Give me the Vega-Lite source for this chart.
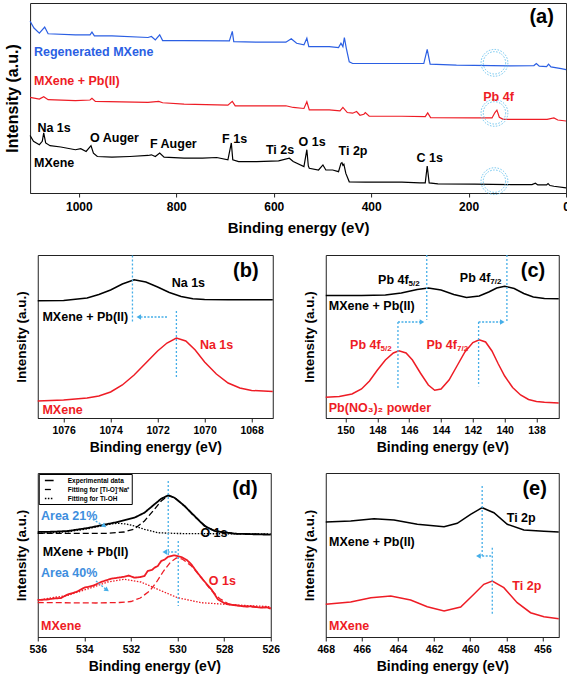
{
"$schema":"https://vega.github.io/schema/vega-lite/v6.json",
"padding":{"left":3,"top":2,"right":0,"bottom":2},
"config":{
 "font":"Liberation Sans",
 "view":{"stroke":"#222222","strokeWidth":1},
 "axis":{"grid":false,"labelFontWeight":"bold","titleFontWeight":"bold","labelColor":"#000000","titleColor":"#000000","domainColor":"#222222","tickColor":"#222222","tickSize":4,"labelFontSize":10.5,"titleFontSize":14,"labelPadding":3,"titlePadding":5,"labelFlush":false,"labelFont":"Liberation Sans","titleFont":"Liberation Sans"},
 "axisY":{"labels":false,"ticks":false,"domain":false,"titleFontSize":13.5,"titlePadding":9.5},
 "text":{"font":"Liberation Sans","fontWeight":"bold","baseline":"middle","align":"left","fontSize":12.5}
},
"datasets":{
 "aL":[
  {"s":"MXene","E":1100,"I":170},{"s":"MXene","E":1093,"I":153},{"s":"MXene","E":1081,"I":143},{"s":"MXene","E":1075,"I":153},{"s":"MXene","E":1072,"I":178},{"s":"MXene","E":1068,"I":148},{"s":"MXene","E":1059,"I":140},{"s":"MXene","E":1037,"I":136},{"s":"MXene","E":1007,"I":128},{"s":"MXene","E":996,"I":131},{"s":"MXene","E":985,"I":123},{"s":"MXene","E":975,"I":140},{"s":"MXene","E":970,"I":118},{"s":"MXene","E":962,"I":108},{"s":"MXene","E":932,"I":106},{"s":"MXene","E":895,"I":108},{"s":"MXene","E":858,"I":111},{"s":"MXene","E":851,"I":113},{"s":"MXene","E":843,"I":108},{"s":"MXene","E":834,"I":118},{"s":"MXene","E":825,"I":106},{"s":"MXene","E":784,"I":103},{"s":"MXene","E":746,"I":103},{"s":"MXene","E":717,"I":105},{"s":"MXene","E":694,"I":98},{"s":"MXene","E":687,"I":148},{"s":"MXene","E":684,"I":98},{"s":"MXene","E":672,"I":93},{"s":"MXene","E":635,"I":93},{"s":"MXene","E":590,"I":95},{"s":"MXene","E":568,"I":103},{"s":"MXene","E":560,"I":93},{"s":"MXene","E":538,"I":78},{"s":"MXene","E":532,"I":128},{"s":"MXene","E":529,"I":80},{"s":"MXene","E":527,"I":73},{"s":"MXene","E":508,"I":68},{"s":"MXene","E":499,"I":83},{"s":"MXene","E":493,"I":68},{"s":"MXene","E":479,"I":68},{"s":"MXene","E":467,"I":63},{"s":"MXene","E":462,"I":88},{"s":"MXene","E":460,"I":90},{"s":"MXene","E":458,"I":82},{"s":"MXene","E":456,"I":85},{"s":"MXene","E":452,"I":58},{"s":"MXene","E":445,"I":33},{"s":"MXene","E":412,"I":32},{"s":"MXene","E":337,"I":32},{"s":"MXene","E":300,"I":30},{"s":"MXene","E":289,"I":30},{"s":"MXene","E":285,"I":80},{"s":"MXene","E":281,"I":30},{"s":"MXene","E":263,"I":27},{"s":"MXene","E":188,"I":26},{"s":"MXene","E":114,"I":25},{"s":"MXene","E":70,"I":25},{"s":"MXene","E":63,"I":29},{"s":"MXene","E":58,"I":24},{"s":"MXene","E":40,"I":24},{"s":"MXene","E":37,"I":28},{"s":"MXene","E":33,"I":22},{"s":"MXene","E":25,"I":20},{"s":"MXene","E":0,"I":15},
  {"s":"Regenerated MXene","E":1100,"I":508},{"s":"Regenerated MXene","E":1092,"I":488},{"s":"Regenerated MXene","E":1081,"I":473},{"s":"Regenerated MXene","E":1070,"I":491},{"s":"Regenerated MXene","E":1063,"I":471},{"s":"Regenerated MXene","E":1007,"I":468},{"s":"Regenerated MXene","E":977,"I":468},{"s":"Regenerated MXene","E":973,"I":476},{"s":"Regenerated MXene","E":968,"I":465},{"s":"Regenerated MXene","E":932,"I":465},{"s":"Regenerated MXene","E":858,"I":460},{"s":"Regenerated MXene","E":851,"I":463},{"s":"Regenerated MXene","E":843,"I":453},{"s":"Regenerated MXene","E":834,"I":468},{"s":"Regenerated MXene","E":828,"I":451},{"s":"Regenerated MXene","E":784,"I":451},{"s":"Regenerated MXene","E":691,"I":450},{"s":"Regenerated MXene","E":685,"I":478},{"s":"Regenerated MXene","E":682,"I":448},{"s":"Regenerated MXene","E":635,"I":446},{"s":"Regenerated MXene","E":575,"I":446},{"s":"Regenerated MXene","E":564,"I":456},{"s":"Regenerated MXene","E":553,"I":443},{"s":"Regenerated MXene","E":538,"I":438},{"s":"Regenerated MXene","E":532,"I":458},{"s":"Regenerated MXene","E":528,"I":433},{"s":"Regenerated MXene","E":486,"I":433},{"s":"Regenerated MXene","E":467,"I":430},{"s":"Regenerated MXene","E":462,"I":443},{"s":"Regenerated MXene","E":458,"I":433},{"s":"Regenerated MXene","E":455,"I":460},{"s":"Regenerated MXene","E":451,"I":428},{"s":"Regenerated MXene","E":445,"I":388},{"s":"Regenerated MXene","E":438,"I":383},{"s":"Regenerated MXene","E":337,"I":383},{"s":"Regenerated MXene","E":292,"I":383},{"s":"Regenerated MXene","E":285,"I":425},{"s":"Regenerated MXene","E":279,"I":381},{"s":"Regenerated MXene","E":225,"I":378},{"s":"Regenerated MXene","E":114,"I":376},{"s":"Regenerated MXene","E":66,"I":377},{"s":"Regenerated MXene","E":61,"I":383},{"s":"Regenerated MXene","E":55,"I":375},{"s":"Regenerated MXene","E":40,"I":374},{"s":"Regenerated MXene","E":36,"I":381},{"s":"Regenerated MXene","E":31,"I":373},{"s":"Regenerated MXene","E":10,"I":368},{"s":"Regenerated MXene","E":0,"I":365},
  {"s":"MXene + Pb(II)","E":1100,"I":283},{"s":"MXene + Pb(II)","E":1081,"I":278},{"s":"MXene + Pb(II)","E":1072,"I":285},{"s":"MXene + Pb(II)","E":1063,"I":276},{"s":"MXene + Pb(II)","E":1007,"I":273},{"s":"MXene + Pb(II)","E":977,"I":275},{"s":"MXene + Pb(II)","E":973,"I":280},{"s":"MXene + Pb(II)","E":966,"I":271},{"s":"MXene + Pb(II)","E":858,"I":268},{"s":"MXene + Pb(II)","E":836,"I":271},{"s":"MXene + Pb(II)","E":828,"I":267},{"s":"MXene + Pb(II)","E":784,"I":263},{"s":"MXene + Pb(II)","E":694,"I":260},{"s":"MXene + Pb(II)","E":685,"I":271},{"s":"MXene + Pb(II)","E":679,"I":258},{"s":"MXene + Pb(II)","E":575,"I":258},{"s":"MXene + Pb(II)","E":560,"I":253},{"s":"MXene + Pb(II)","E":538,"I":250},{"s":"MXene + Pb(II)","E":532,"I":270},{"s":"MXene + Pb(II)","E":527,"I":246},{"s":"MXene + Pb(II)","E":486,"I":246},{"s":"MXene + Pb(II)","E":464,"I":243},{"s":"MXene + Pb(II)","E":458,"I":253},{"s":"MXene + Pb(II)","E":449,"I":238},{"s":"MXene + Pb(II)","E":438,"I":236},{"s":"MXene + Pb(II)","E":430,"I":241},{"s":"MXene + Pb(II)","E":423,"I":230},{"s":"MXene + Pb(II)","E":415,"I":233},{"s":"MXene + Pb(II)","E":412,"I":238},{"s":"MXene + Pb(II)","E":404,"I":227},{"s":"MXene + Pb(II)","E":337,"I":227},{"s":"MXene + Pb(II)","E":289,"I":226},{"s":"MXene + Pb(II)","E":284,"I":237},{"s":"MXene + Pb(II)","E":278,"I":223},{"s":"MXene + Pb(II)","E":188,"I":222},{"s":"MXene + Pb(II)","E":152,"I":222},{"s":"MXene + Pb(II)","E":146,"I":238},{"s":"MXene + Pb(II)","E":142,"I":245},{"s":"MXene + Pb(II)","E":137,"I":224},{"s":"MXene + Pb(II)","E":129,"I":218},{"s":"MXene + Pb(II)","E":39,"I":218},{"s":"MXene + Pb(II)","E":25,"I":222},{"s":"MXene + Pb(II)","E":17,"I":216},{"s":"MXene + Pb(II)","E":0,"I":213}
 ],
 "aC":[{"E":147,"I":385},{"E":147,"I":237},{"E":147,"I":35}],
 "aT":[
  {"E":1092,"I":416,"t":"Regenerated MXene","s":"Regenerated MXene"},
  {"E":1092,"I":331,"t":"MXene + Pb(II)","s":"MXene + Pb(II)"},
  {"E":170,"I":283,"t":"Pb 4f","s":"MXene + Pb(II)"},
  {"E":1085,"I":193,"t":"Na 1s","s":"MXene"},
  {"E":977,"I":163,"t":"O Auger","s":"MXene"},
  {"E":854,"I":145,"t":"F Auger","s":"MXene"},
  {"E":706,"I":160,"t":"F 1s","s":"MXene"},
  {"E":616,"I":128,"t":"Ti 2s","s":"MXene"},
  {"E":549,"I":150,"t":"O 1s","s":"MXene"},
  {"E":467,"I":125,"t":"Ti 2p","s":"MXene"},
  {"E":307,"I":103,"t":"C 1s","s":"MXene"},
  {"E":1092,"I":88,"t":"MXene","s":"MXene"}
 ],
 "bL":[
  {"s":"MXene + Pb(II)","E":1077.1,"I":117.3},{"s":"MXene + Pb(II)","E":1076,"I":117.5},{"s":"MXene + Pb(II)","E":1075,"I":120},{"s":"MXene + Pb(II)","E":1074.5,"I":123.5},{"s":"MXene + Pb(II)","E":1074,"I":128},{"s":"MXene + Pb(II)","E":1073.5,"I":134},{"s":"MXene + Pb(II)","E":1073,"I":138.3},{"s":"MXene + Pb(II)","E":1072.5,"I":136},{"s":"MXene + Pb(II)","E":1072,"I":131},{"s":"MXene + Pb(II)","E":1071.5,"I":125.5},{"s":"MXene + Pb(II)","E":1071,"I":121.5},{"s":"MXene + Pb(II)","E":1070.5,"I":119.3},{"s":"MXene + Pb(II)","E":1070,"I":118.5},{"s":"MXene + Pb(II)","E":1069,"I":118.3},{"s":"MXene + Pb(II)","E":1067.1,"I":118.3},
  {"s":"MXene","E":1077.1,"I":17},{"s":"MXene","E":1076,"I":18},{"s":"MXene","E":1075,"I":20},{"s":"MXene","E":1074.5,"I":22},{"s":"MXene","E":1074,"I":26},{"s":"MXene","E":1073.5,"I":33},{"s":"MXene","E":1073,"I":43},{"s":"MXene","E":1072.5,"I":55},{"s":"MXene","E":1072,"I":67},{"s":"MXene","E":1071.6,"I":75},{"s":"MXene","E":1071.2,"I":80},{"s":"MXene","E":1070.8,"I":77},{"s":"MXene","E":1070.4,"I":68},{"s":"MXene","E":1070,"I":56},{"s":"MXene","E":1069.5,"I":44},{"s":"MXene","E":1069,"I":35},{"s":"MXene","E":1068.5,"I":30},{"s":"MXene","E":1068,"I":27.5},{"s":"MXene","E":1067.1,"I":26.5}
 ],
 "bT":[
  {"E":1071.4,"I":135,"t":"Na 1s","s":"MXene + Pb(II)"},
  {"E":1076.9,"I":101,"t":"MXene + Pb(II)","s":"MXene + Pb(II)"},
  {"E":1070.2,"I":73,"t":"Na 1s","s":"MXene"},
  {"E":1076.9,"I":8,"t":"MXene","s":"MXene"}
 ],
 "bV":[{"E":1073.07,"I":162.5,"I2":96},{"E":1071.2,"I":107,"I2":39}],
 "bA":[{"E":1071.6,"E2":1072.7,"I":101}],
 "bH":[{"E":1072.8,"I":101}],
 "cL":[
  {"s":"MXene + Pb(II)","E":151.25,"I":122.5},{"s":"MXene + Pb(II)","E":149,"I":122.5},{"s":"MXene + Pb(II)","E":147.5,"I":123},{"s":"MXene + Pb(II)","E":146.5,"I":125},{"s":"MXene + Pb(II)","E":145.5,"I":128.5},{"s":"MXene + Pb(II)","E":144.8,"I":130},{"s":"MXene + Pb(II)","E":144,"I":128},{"s":"MXene + Pb(II)","E":143.2,"I":123.5},{"s":"MXene + Pb(II)","E":142.4,"I":120.5},{"s":"MXene + Pb(II)","E":141.6,"I":122},{"s":"MXene + Pb(II)","E":141,"I":126},{"s":"MXene + Pb(II)","E":140.5,"I":130},{"s":"MXene + Pb(II)","E":140,"I":131.7},{"s":"MXene + Pb(II)","E":139.4,"I":129.5},{"s":"MXene + Pb(II)","E":138.8,"I":124.5},{"s":"MXene + Pb(II)","E":138.2,"I":121},{"s":"MXene + Pb(II)","E":137.5,"I":119.5},{"s":"MXene + Pb(II)","E":136.6,"I":119.3},
  {"s":"Pb(NO3)2","E":151.25,"I":20.7},{"s":"Pb(NO3)2","E":150.4,"I":21.5},{"s":"Pb(NO3)2","E":149.6,"I":24},{"s":"Pb(NO3)2","E":149,"I":29},{"s":"Pb(NO3)2","E":148.5,"I":37},{"s":"Pb(NO3)2","E":148,"I":48},{"s":"Pb(NO3)2","E":147.5,"I":58},{"s":"Pb(NO3)2","E":147,"I":65},{"s":"Pb(NO3)2","E":146.65,"I":67.3},{"s":"Pb(NO3)2","E":146.2,"I":65},{"s":"Pb(NO3)2","E":145.8,"I":58},{"s":"Pb(NO3)2","E":145.3,"I":45},{"s":"Pb(NO3)2","E":144.8,"I":33},{"s":"Pb(NO3)2","E":144.4,"I":27.7},{"s":"Pb(NO3)2","E":144,"I":29},{"s":"Pb(NO3)2","E":143.5,"I":38},{"s":"Pb(NO3)2","E":143,"I":52},{"s":"Pb(NO3)2","E":142.5,"I":66},{"s":"Pb(NO3)2","E":142,"I":75.5},{"s":"Pb(NO3)2","E":141.6,"I":78.3},{"s":"Pb(NO3)2","E":141.2,"I":76},{"s":"Pb(NO3)2","E":140.8,"I":67},{"s":"Pb(NO3)2","E":140.4,"I":54},{"s":"Pb(NO3)2","E":140,"I":42},{"s":"Pb(NO3)2","E":139.5,"I":30.5},{"s":"Pb(NO3)2","E":139,"I":23},{"s":"Pb(NO3)2","E":138.5,"I":18.5},{"s":"Pb(NO3)2","E":138,"I":16.5},{"s":"Pb(NO3)2","E":137.5,"I":15.7},{"s":"Pb(NO3)2","E":136.6,"I":15}
 ],
 "cT":[
  {"E":151.06,"I":111.7,"t":"MXene + Pb(II)","s":"MXene + Pb(II)"},
  {"E":151.06,"I":10,"t":"Pb(NO₃)₂ powder","s":"Pb(NO3)2"}
 ],
 "cF":[
  {"E":146.04,"I":138.3,"t":"Pb 4f","u":"5/2","s":"MXene + Pb(II)"},
  {"E":140.9,"I":140,"t":"Pb 4f","u":"7/2","s":"MXene + Pb(II)"},
  {"E":147.8,"I":73.3,"t":"Pb 4f","u":"5/2","s":"Pb(NO3)2"},
  {"E":143.0,"I":73.3,"t":"Pb 4f","u":"7/2","s":"Pb(NO3)2"}
 ],
 "cV":[{"E":144.9,"I":163,"I2":98.3},{"E":139.86,"I":163,"I2":97},{"E":146.71,"I":96,"I2":29.3},{"E":141.64,"I":96,"I2":31.7}],
 "cA":[{"E":146.71,"E2":145.3,"I":96},{"E":141.64,"E2":140.25,"I":96}],
 "cH":[{"E":145.2,"I":96},{"E":140.15,"I":96}],
 "dL":[
  {"s":"MXene + Pb(II)","f":"Experimental data","E":536,"I":105},{"s":"MXene + Pb(II)","f":"Experimental data","E":535.3,"I":105.3},{"s":"MXene + Pb(II)","f":"Experimental data","E":534.7,"I":106},{"s":"MXene + Pb(II)","f":"Experimental data","E":533.85,"I":109},{"s":"MXene + Pb(II)","f":"Experimental data","E":533.28,"I":111.7},{"s":"MXene + Pb(II)","f":"Experimental data","E":532.57,"I":115},{"s":"MXene + Pb(II)","f":"Experimental data","E":531.85,"I":119.3},{"s":"MXene + Pb(II)","f":"Experimental data","E":531.42,"I":124.3},{"s":"MXene + Pb(II)","f":"Experimental data","E":530.99,"I":132.7},{"s":"MXene + Pb(II)","f":"Experimental data","E":530.7,"I":138.3},{"s":"MXene + Pb(II)","f":"Experimental data","E":530.4,"I":141.7},{"s":"MXene + Pb(II)","f":"Experimental data","E":530.13,"I":139.3},{"s":"MXene + Pb(II)","f":"Experimental data","E":529.7,"I":131},{"s":"MXene + Pb(II)","f":"Experimental data","E":529.27,"I":121},{"s":"MXene + Pb(II)","f":"Experimental data","E":528.84,"I":111},{"s":"MXene + Pb(II)","f":"Experimental data","E":528.41,"I":106},{"s":"MXene + Pb(II)","f":"Experimental data","E":527.55,"I":103.3},{"s":"MXene + Pb(II)","f":"Experimental data","E":526.8,"I":102.8},{"s":"MXene + Pb(II)","f":"Experimental data","E":526,"I":102.3},
  {"s":"MXene + Pb(II)","f":"Fitting for [Ti-O]⁻Na⁺","E":536,"I":103.7},{"s":"MXene + Pb(II)","f":"Fitting for [Ti-O]⁻Na⁺","E":533,"I":103.7},{"s":"MXene + Pb(II)","f":"Fitting for [Ti-O]⁻Na⁺","E":532.3,"I":105},{"s":"MXene + Pb(II)","f":"Fitting for [Ti-O]⁻Na⁺","E":531.85,"I":108},{"s":"MXene + Pb(II)","f":"Fitting for [Ti-O]⁻Na⁺","E":531.42,"I":116},{"s":"MXene + Pb(II)","f":"Fitting for [Ti-O]⁻Na⁺","E":531,"I":127.5},{"s":"MXene + Pb(II)","f":"Fitting for [Ti-O]⁻Na⁺","E":530.7,"I":136},{"s":"MXene + Pb(II)","f":"Fitting for [Ti-O]⁻Na⁺","E":530.4,"I":141.5},{"s":"MXene + Pb(II)","f":"Fitting for [Ti-O]⁻Na⁺","E":530.1,"I":139},{"s":"MXene + Pb(II)","f":"Fitting for [Ti-O]⁻Na⁺","E":529.7,"I":131},{"s":"MXene + Pb(II)","f":"Fitting for [Ti-O]⁻Na⁺","E":529.3,"I":121},{"s":"MXene + Pb(II)","f":"Fitting for [Ti-O]⁻Na⁺","E":528.8,"I":111},{"s":"MXene + Pb(II)","f":"Fitting for [Ti-O]⁻Na⁺","E":528.4,"I":106},{"s":"MXene + Pb(II)","f":"Fitting for [Ti-O]⁻Na⁺","E":527.5,"I":103.5},{"s":"MXene + Pb(II)","f":"Fitting for [Ti-O]⁻Na⁺","E":526,"I":102.5},
  {"s":"MXene + Pb(II)","f":"Fitting for Ti-OH","E":536,"I":103.7},{"s":"MXene + Pb(II)","f":"Fitting for Ti-OH","E":535.3,"I":104.3},{"s":"MXene + Pb(II)","f":"Fitting for Ti-OH","E":534.7,"I":105.2},{"s":"MXene + Pb(II)","f":"Fitting for Ti-OH","E":533.85,"I":108.3},{"s":"MXene + Pb(II)","f":"Fitting for Ti-OH","E":533.28,"I":111},{"s":"MXene + Pb(II)","f":"Fitting for Ti-OH","E":532.8,"I":113.2},{"s":"MXene + Pb(II)","f":"Fitting for Ti-OH","E":532.57,"I":113.7},{"s":"MXene + Pb(II)","f":"Fitting for Ti-OH","E":532.2,"I":113},{"s":"MXene + Pb(II)","f":"Fitting for Ti-OH","E":531.85,"I":111},{"s":"MXene + Pb(II)","f":"Fitting for Ti-OH","E":531.42,"I":107.7},{"s":"MXene + Pb(II)","f":"Fitting for Ti-OH","E":530.85,"I":104.3},{"s":"MXene + Pb(II)","f":"Fitting for Ti-OH","E":530,"I":103.5},{"s":"MXene + Pb(II)","f":"Fitting for Ti-OH","E":528,"I":103.2},{"s":"MXene + Pb(II)","f":"Fitting for Ti-OH","E":526,"I":103},
  {"s":"MXene","f":"Experimental data","E":536,"I":37},{"s":"MXene","f":"Experimental data","E":535.6,"I":37.5},{"s":"MXene","f":"Experimental data","E":535.3,"I":38.5},{"s":"MXene","f":"Experimental data","E":535,"I":39},{"s":"MXene","f":"Experimental data","E":534.7,"I":42.7},{"s":"MXene","f":"Experimental data","E":534.35,"I":45},{"s":"MXene","f":"Experimental data","E":534,"I":49.3},{"s":"MXene","f":"Experimental data","E":533.6,"I":51.5},{"s":"MXene","f":"Experimental data","E":533.28,"I":55},{"s":"MXene","f":"Experimental data","E":532.85,"I":58.3},{"s":"MXene","f":"Experimental data","E":532.5,"I":59.5},{"s":"MXene","f":"Experimental data","E":532.28,"I":60.3},{"s":"MXene","f":"Experimental data","E":532.1,"I":61.5},{"s":"MXene","f":"Experimental data","E":531.85,"I":59.3},{"s":"MXene","f":"Experimental data","E":531.6,"I":60},{"s":"MXene","f":"Experimental data","E":531.42,"I":61},{"s":"MXene","f":"Experimental data","E":531.28,"I":66},{"s":"MXene","f":"Experimental data","E":531.1,"I":67},{"s":"MXene","f":"Experimental data","E":530.99,"I":69.3},{"s":"MXene","f":"Experimental data","E":530.85,"I":71},{"s":"MXene","f":"Experimental data","E":530.7,"I":76},{"s":"MXene","f":"Experimental data","E":530.55,"I":77.5},{"s":"MXene","f":"Experimental data","E":530.4,"I":80.3},{"s":"MXene","f":"Experimental data","E":530.13,"I":81.7},{"s":"MXene","f":"Experimental data","E":529.84,"I":80},{"s":"MXene","f":"Experimental data","E":529.6,"I":77},{"s":"MXene","f":"Experimental data","E":529.41,"I":72.7},{"s":"MXene","f":"Experimental data","E":529.2,"I":66},{"s":"MXene","f":"Experimental data","E":528.98,"I":59.3},{"s":"MXene","f":"Experimental data","E":528.75,"I":53},{"s":"MXene","f":"Experimental data","E":528.55,"I":47.7},{"s":"MXene","f":"Experimental data","E":528.27,"I":37.7},{"s":"MXene","f":"Experimental data","E":528,"I":34},{"s":"MXene","f":"Experimental data","E":527.84,"I":32.7},{"s":"MXene","f":"Experimental data","E":527.27,"I":31},{"s":"MXene","f":"Experimental data","E":526.8,"I":30.5},{"s":"MXene","f":"Experimental data","E":526.41,"I":29.3},{"s":"MXene","f":"Experimental data","E":526.2,"I":30},{"s":"MXene","f":"Experimental data","E":526,"I":28.3},
  {"s":"MXene","f":"Fitting for [Ti-O]⁻Na⁺","E":536,"I":34.5},{"s":"MXene","f":"Fitting for [Ti-O]⁻Na⁺","E":533.5,"I":34},{"s":"MXene","f":"Fitting for [Ti-O]⁻Na⁺","E":532.5,"I":34.5},{"s":"MXene","f":"Fitting for [Ti-O]⁻Na⁺","E":532,"I":35.5},{"s":"MXene","f":"Fitting for [Ti-O]⁻Na⁺","E":531.6,"I":39},{"s":"MXene","f":"Fitting for [Ti-O]⁻Na⁺","E":531.2,"I":46},{"s":"MXene","f":"Fitting for [Ti-O]⁻Na⁺","E":530.9,"I":55},{"s":"MXene","f":"Fitting for [Ti-O]⁻Na⁺","E":530.6,"I":66},{"s":"MXene","f":"Fitting for [Ti-O]⁻Na⁺","E":530.3,"I":75},{"s":"MXene","f":"Fitting for [Ti-O]⁻Na⁺","E":530.05,"I":79},{"s":"MXene","f":"Fitting for [Ti-O]⁻Na⁺","E":529.8,"I":78},{"s":"MXene","f":"Fitting for [Ti-O]⁻Na⁺","E":529.4,"I":71},{"s":"MXene","f":"Fitting for [Ti-O]⁻Na⁺","E":529,"I":60},{"s":"MXene","f":"Fitting for [Ti-O]⁻Na⁺","E":528.6,"I":48},{"s":"MXene","f":"Fitting for [Ti-O]⁻Na⁺","E":528.2,"I":38.5},{"s":"MXene","f":"Fitting for [Ti-O]⁻Na⁺","E":527.8,"I":33},{"s":"MXene","f":"Fitting for [Ti-O]⁻Na⁺","E":527.2,"I":30.5},{"s":"MXene","f":"Fitting for [Ti-O]⁻Na⁺","E":526,"I":29},
  {"s":"MXene","f":"Fitting for Ti-OH","E":536,"I":37},{"s":"MXene","f":"Fitting for Ti-OH","E":534.7,"I":41.7},{"s":"MXene","f":"Fitting for Ti-OH","E":533.7,"I":49.3},{"s":"MXene","f":"Fitting for Ti-OH","E":533,"I":55},{"s":"MXene","f":"Fitting for Ti-OH","E":532.28,"I":57.7},{"s":"MXene","f":"Fitting for Ti-OH","E":531.57,"I":55},{"s":"MXene","f":"Fitting for Ti-OH","E":530.85,"I":47.7},{"s":"MXene","f":"Fitting for Ti-OH","E":530,"I":39.3},{"s":"MXene","f":"Fitting for Ti-OH","E":528.98,"I":34.3},{"s":"MXene","f":"Fitting for Ti-OH","E":527.5,"I":32},{"s":"MXene","f":"Fitting for Ti-OH","E":526,"I":30.3}
 ],
 "dT":[
  {"E":529.02,"I":104.5,"t":"O 1s","s":"MXene + Pb(II)"},
  {"E":535.79,"I":85,"t":"MXene + Pb(II)","s":"MXene + Pb(II)"},
  {"E":528.66,"I":56,"t":"O 1s","s":"MXene"},
  {"E":535.86,"I":11,"t":"MXene","s":"MXene"}
 ],
 "dB":[{"E":535.86,"I":121,"t":"Area 21%"},{"E":535.86,"I":63.7,"t":"Area 40%"}],
 "dV":[{"E":530.4,"I":156,"I2":81},{"E":529.97,"I":96,"I2":31}],
 "dA":[{"E":530.04,"E2":530.5,"I":85,"I2":85},{"E":533.64,"E2":533.2,"I":117.7,"I2":111.5},{"E":533.5,"E2":533.08,"I":56,"I2":47.8}],
 "dHL":[{"E":530.55,"I":85}],
 "dHD":[{"E":533.14,"I":111},{"E":533.03,"I":47}],
 "eL":[
  {"s":"MXene + Pb(II)","E":468,"I":115},{"s":"MXene + Pb(II)","E":466.62,"I":116},{"s":"MXene + Pb(II)","E":465.33,"I":118.3},{"s":"MXene + Pb(II)","E":464.22,"I":117},{"s":"MXene + Pb(II)","E":462.93,"I":112.7},{"s":"MXene + Pb(II)","E":461.45,"I":110.3},{"s":"MXene + Pb(II)","E":460.72,"I":113.7},{"s":"MXene + Pb(II)","E":459.98,"I":122.7},{"s":"MXene + Pb(II)","E":459.34,"I":129.3},{"s":"MXene + Pb(II)","E":458.69,"I":124.3},{"s":"MXene + Pb(II)","E":457.95,"I":112.7},{"s":"MXene + Pb(II)","E":457.03,"I":107},{"s":"MXene + Pb(II)","E":455.92,"I":105.7},{"s":"MXene + Pb(II)","E":455.1,"I":105},
  {"s":"MXene","E":468,"I":32.7},{"s":"MXene","E":466.62,"I":35},{"s":"MXene","E":465.5,"I":39.3},{"s":"MXene","E":464.4,"I":41},{"s":"MXene","E":463.3,"I":37},{"s":"MXene","E":462.38,"I":30.3},{"s":"MXene","E":461.45,"I":26},{"s":"MXene","E":460.53,"I":30},{"s":"MXene","E":459.8,"I":42.7},{"s":"MXene","E":459.25,"I":52.7},{"s":"MXene","E":458.78,"I":56},{"s":"MXene","E":458.14,"I":49.3},{"s":"MXene","E":457.4,"I":34.3},{"s":"MXene","E":456.66,"I":24.3},{"s":"MXene","E":455.92,"I":20.3},{"s":"MXene","E":455.1,"I":18.3}
 ],
 "eT":[
  {"E":457.98,"I":119.3,"t":"Ti 2p","s":"MXene + Pb(II)"},
  {"E":467.82,"I":95.3,"t":"MXene + Pb(II)","s":"MXene + Pb(II)"},
  {"E":457.67,"I":51,"t":"Ti 2p","s":"MXene"},
  {"E":467.82,"I":11,"t":"MXene","s":"MXene"}
 ],
 "eV":[{"E":459.34,"I":151,"I2":81},{"E":458.78,"I":89.3,"I2":22.7}],
 "eA":[{"E":458.84,"E2":459.5,"I":81}],
 "eH":[{"E":459.55,"I":81}]
},
"center":true,
"spacing":17,
"resolve":{"scale":{"color":"independent","strokeDash":"independent"}},
"vconcat":[
 {"width":536,"height":190,
  "encoding":{
   "x":{"field":"E","type":"quantitative","scale":{"domain":[0,1100],"reverse":true,"nice":false,"zero":false},"axis":{"title":"Binding energy (eV)","values":[1000,800,600,400,200,0],"format":"d","labelFontSize":12,"titleFontSize":15,"labelPadding":4,"titlePadding":8}},
   "y":{"field":"I","type":"quantitative","scale":{"domain":[0,562],"nice":false,"zero":false},"axis":{"title":"Intensity (a.u.)","titleFontSize":16,"titlePadding":10}}
  },
  "layer":[
   {"data":{"name":"aL"},"mark":{"type":"line","strokeWidth":1.2},"encoding":{"color":{"field":"s","type":"nominal","scale":{"domain":["Regenerated MXene","MXene + Pb(II)","MXene"],"range":["#2b5fe3","#ee1c25","#000000"]},"legend":null}}},
   {"data":{"name":"aC"},"mark":{"type":"point","shape":"circle","filled":false,"size":720,"color":"#6cc4ef","strokeWidth":1,"strokeDash":[1.5,1.5],"opacity":1}},
   {"data":{"name":"aC"},"mark":{"type":"point","shape":"circle","filled":false,"size":500,"color":"#6cc4ef","strokeWidth":1,"strokeDash":[1.5,1.5],"opacity":1}},
   {"data":{"name":"aT"},"mark":{"type":"text","fontSize":12.5},"encoding":{"text":{"field":"t"},"color":{"field":"s","type":"nominal","scale":{"domain":["Regenerated MXene","MXene + Pb(II)","MXene"],"range":["#2b5fe3","#ee1c25","#000000"]},"legend":null}}},
   {"data":{"values":[{"E":25,"I":520,"t":"(a)"}]},"mark":{"type":"text","fontSize":20,"align":"right","color":"#000000"},"encoding":{"text":{"field":"t"}}}
  ]
 },
 {"spacing":25,"resolve":{"scale":{"color":"independent","strokeDash":"independent"}},
  "hconcat":[
   {"width":235,"height":163,
    "encoding":{
     "x":{"field":"E","type":"quantitative","scale":{"domain":[1067.1,1077.1],"reverse":true,"nice":false,"zero":false},"axis":{"title":"Binding energy (eV)","values":[1076,1074,1072,1070,1068],"format":"d"}},
     "y":{"field":"I","type":"quantitative","scale":{"domain":[0,163],"nice":false,"zero":false},"axis":{"title":"Intensity (a.u.)"}}
    },
    "layer":[
     {"data":{"name":"bL"},"mark":{"type":"line","strokeWidth":1.5},"encoding":{"color":{"field":"s","type":"nominal","scale":{"domain":["MXene + Pb(II)","MXene"],"range":["#000000","#ee1c25"]},"legend":null}}},
     {"data":{"name":"bV"},"mark":{"type":"rule","color":"#45aee8","strokeWidth":1.3,"strokeDash":[2,2]},"encoding":{"y2":{"field":"I2"}}},
     {"data":{"name":"bA"},"mark":{"type":"rule","color":"#45aee8","strokeWidth":1.3,"strokeDash":[2,1.5]},"encoding":{"x2":{"field":"E2"}}},
     {"data":{"name":"bH"},"mark":{"type":"point","shape":"triangle-left","filled":true,"size":28,"color":"#45aee8","opacity":1}},
     {"data":{"name":"bT"},"mark":{"type":"text"},"encoding":{"text":{"field":"t"},"color":{"field":"s","type":"nominal","scale":{"domain":["MXene + Pb(II)","MXene"],"range":["#000000","#ee1c25"]},"legend":null}}},
     {"data":{"values":[{"E":1067.7,"I":147,"t":"(b)"}]},"mark":{"type":"text","fontSize":20,"align":"right","color":"#000000"},"encoding":{"text":{"field":"t"}}}
    ]
   },
   {"width":233,"height":163,
    "encoding":{
     "x":{"field":"E","type":"quantitative","scale":{"domain":[136.6,151.25],"reverse":true,"nice":false,"zero":false},"axis":{"title":"Binding energy (eV)","values":[150,148,146,144,142,140,138],"format":"d"}},
     "y":{"field":"I","type":"quantitative","scale":{"domain":[0,163],"nice":false,"zero":false},"axis":{"title":"Intensity (a.u.)"}}
    },
    "layer":[
     {"data":{"name":"cL"},"mark":{"type":"line","strokeWidth":1.5},"encoding":{"color":{"field":"s","type":"nominal","scale":{"domain":["MXene + Pb(II)","Pb(NO3)2"],"range":["#000000","#ee1c25"]},"legend":null}}},
     {"data":{"name":"cV"},"mark":{"type":"rule","color":"#45aee8","strokeWidth":1.3,"strokeDash":[2,2]},"encoding":{"y2":{"field":"I2"}}},
     {"data":{"name":"cA"},"mark":{"type":"rule","color":"#45aee8","strokeWidth":1.3,"strokeDash":[2,1.5]},"encoding":{"x2":{"field":"E2"}}},
     {"data":{"name":"cH"},"mark":{"type":"point","shape":"triangle-right","filled":true,"size":28,"color":"#45aee8","opacity":1}},
     {"data":{"name":"cT"},"mark":{"type":"text"},"encoding":{"text":{"field":"t"},"color":{"field":"s","type":"nominal","scale":{"domain":["MXene + Pb(II)","Pb(NO3)2"],"range":["#000000","#ee1c25"]},"legend":null}}},
     {"data":{"name":"cF"},"mark":{"type":"text","align":"right"},"encoding":{"text":{"field":"t"},"color":{"field":"s","type":"nominal","scale":{"domain":["MXene + Pb(II)","Pb(NO3)2"],"range":["#000000","#ee1c25"]},"legend":null}}},
     {"data":{"name":"cF"},"mark":{"type":"text","align":"left","fontSize":8,"dy":4},"encoding":{"text":{"field":"u"},"color":{"field":"s","type":"nominal","scale":{"domain":["MXene + Pb(II)","Pb(NO3)2"],"range":["#000000","#ee1c25"]},"legend":null}}},
     {"data":{"values":[{"E":137.45,"I":146.7,"t":"(c)"}]},"mark":{"type":"text","fontSize":20,"align":"right","color":"#000000"},"encoding":{"text":{"field":"t"}}}
    ]
   }
  ]
 },
 {"spacing":21,"resolve":{"scale":{"color":"independent","strokeDash":"independent"}},
  "hconcat":[
   {"width":233,"height":164,
    "encoding":{
     "x":{"field":"E","type":"quantitative","scale":{"domain":[526,536],"reverse":true,"nice":false,"zero":false},"axis":{"title":"Binding energy (eV)","values":[536,534,532,530,528,526],"format":"d"}},
     "y":{"field":"I","type":"quantitative","scale":{"domain":[0,164],"nice":false,"zero":false},"axis":{"title":"Intensity (a.u.)"}}
    },
    "layer":[
     {"data":{"name":"dL"},"transform":[{"filter":"datum.f == 'Experimental data'"}],"mark":{"type":"line","strokeWidth":1.8},"encoding":{
       "color":{"field":"s","type":"nominal","scale":{"domain":["MXene + Pb(II)","MXene"],"range":["#000000","#ee1c25"]},"legend":null},
       "strokeDash":{"field":"f","type":"nominal","scale":{"domain":["Experimental data","Fitting for [Ti-O]⁻Na⁺","Fitting for Ti-OH"],"range":[[1,0],[6,3],[1.5,1.5]]},"legend":{"title":null,"orient":"top-left","offset":1,"padding":2,"strokeColor":"#000000","fillColor":"#ffffff","labelFontSize":6.5,"labelFontWeight":"bold","labelColor":"#000000","symbolType":"M-1.25,0L1.25,0","symbolSize":49,"symbolStrokeColor":"#000000","symbolFillColor":"transparent","symbolStrokeWidth":1.3,"symbolOffset":4,"labelOffset":14,"rowPadding":1}}}},
     {"data":{"name":"dL"},"transform":[{"filter":"datum.f != 'Experimental data'"}],"mark":{"type":"line","strokeWidth":1.3},"encoding":{
       "color":{"field":"s","type":"nominal","scale":{"domain":["MXene + Pb(II)","MXene"],"range":["#000000","#ee1c25"]},"legend":null},
       "strokeDash":{"field":"f","type":"nominal","scale":{"domain":["Experimental data","Fitting for [Ti-O]⁻Na⁺","Fitting for Ti-OH"],"range":[[1,0],[6,3],[1.5,1.5]]},"legend":{"title":null,"orient":"top-left","offset":1,"padding":2,"strokeColor":"#000000","fillColor":"#ffffff","labelFontSize":6.5,"labelFontWeight":"bold","labelColor":"#000000","symbolType":"M-1.25,0L1.25,0","symbolSize":49,"symbolStrokeColor":"#000000","symbolFillColor":"transparent","symbolStrokeWidth":1.3,"symbolOffset":4,"labelOffset":14,"rowPadding":1}}}},
     {"data":{"name":"dV"},"mark":{"type":"rule","color":"#45aee8","strokeWidth":1.3,"strokeDash":[2,2]},"encoding":{"y2":{"field":"I2"}}},
     {"data":{"name":"dA"},"mark":{"type":"rule","color":"#45aee8","strokeWidth":1.3,"strokeDash":[2,1.5]},"encoding":{"x2":{"field":"E2"},"y2":{"field":"I2"}}},
     {"data":{"name":"dHL"},"mark":{"type":"point","shape":"triangle-left","filled":true,"size":28,"color":"#45aee8","opacity":1}},
     {"data":{"name":"dHD"},"mark":{"type":"point","shape":"triangle-right","filled":true,"size":28,"angle":35,"color":"#45aee8","opacity":1}},
     {"data":{"name":"dT"},"mark":{"type":"text"},"encoding":{"text":{"field":"t"},"color":{"field":"s","type":"nominal","scale":{"domain":["MXene + Pb(II)","MXene"],"range":["#000000","#ee1c25"]},"legend":null}}},
     {"data":{"name":"dB"},"mark":{"type":"text","color":"#3e8ede"},"encoding":{"text":{"field":"t"}}},
     {"data":{"values":[{"E":526.56,"I":147.7,"t":"(d)"}]},"mark":{"type":"text","fontSize":20,"align":"right","color":"#000000"},"encoding":{"text":{"field":"t"}}}
    ]
   },
   {"width":233,"height":164,
    "encoding":{
     "x":{"field":"E","type":"quantitative","scale":{"domain":[455.1,468],"reverse":true,"nice":false,"zero":false},"axis":{"title":"Binding energy (eV)","values":[468,466,464,462,460,458,456],"format":"d"}},
     "y":{"field":"I","type":"quantitative","scale":{"domain":[0,164],"nice":false,"zero":false},"axis":{"title":"Intensity (a.u.)"}}
    },
    "layer":[
     {"data":{"name":"eL"},"mark":{"type":"line","strokeWidth":1.5},"encoding":{"color":{"field":"s","type":"nominal","scale":{"domain":["MXene + Pb(II)","MXene"],"range":["#000000","#ee1c25"]},"legend":null}}},
     {"data":{"name":"eV"},"mark":{"type":"rule","color":"#45aee8","strokeWidth":1.3,"strokeDash":[2,2]},"encoding":{"y2":{"field":"I2"}}},
     {"data":{"name":"eA"},"mark":{"type":"rule","color":"#45aee8","strokeWidth":1.3,"strokeDash":[2,1.5]},"encoding":{"x2":{"field":"E2"}}},
     {"data":{"name":"eH"},"mark":{"type":"point","shape":"triangle-left","filled":true,"size":28,"color":"#45aee8","opacity":1}},
     {"data":{"name":"eT"},"mark":{"type":"text"},"encoding":{"text":{"field":"t"},"color":{"field":"s","type":"nominal","scale":{"domain":["MXene + Pb(II)","MXene"],"range":["#000000","#ee1c25"]},"legend":null}}},
     {"data":{"values":[{"E":455.76,"I":147.7,"t":"(e)"}]},"mark":{"type":"text","fontSize":20,"align":"right","color":"#000000"},"encoding":{"text":{"field":"t"}}}
    ]
   }
  ]
 }
]
}
